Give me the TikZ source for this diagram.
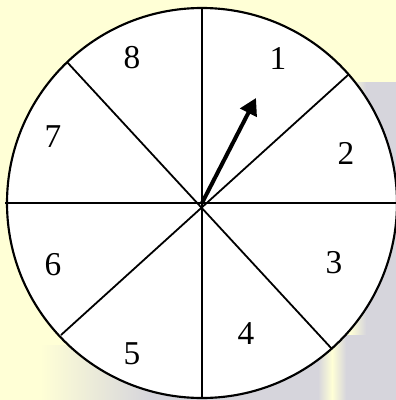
\documentclass[tikz,border=0pt]{standalone}
\usepackage{fontspec}
\setmainfont{Liberation Serif}
\usetikzlibrary{arrows.meta}
\definecolor{bgyellow}{HTML}{FFFFD6}
\definecolor{bggray}{HTML}{D6D5DC}
\tikzset{
  rim/.style={draw=black, line width=1.6pt, fill=white},
  spoke/.style={draw=black, line width=1.35pt},
  pointer/.style={draw=black, line width=3pt, -{Triangle[length=12.5pt,width=13.5pt]}},
  num/.style={font=\fontsize{25pt}{30pt}\selectfont, inner sep=0pt}
}
\begin{document}
\begin{tikzpicture}[x=0.75pt, y=-0.75pt]
\useasboundingbox (0,0) rectangle (396,400);
% background
\fill[bgyellow] (0,0) rectangle (396,400);
\fill[bggray] (366,82) rectangle (396,400);
\shade[left color=bgyellow, right color=bggray] (350,82) rectangle (366,400);
\fill[bggray] (150,335) rectangle (396,400);
\shade[left color=bggray, right color=bgyellow] (318,335) rectangle (332,400);
\shade[left color=bgyellow, right color=bggray] (332,335) rectangle (346,400);
\shade[left color=bgyellow, right color=bggray] (40,345) rectangle (150,400);
% wheel
\coordinate (c) at (202,203);
\draw[rim] (c) circle[radius=146.25pt];
\coordinate (top) at (202,7);
\coordinate (bot) at (202,399);
\coordinate (lft) at (5,203);
\coordinate (rgt) at (396,203);
\coordinate (d1a) at (67,62);
\coordinate (d1b) at (332,349);
\coordinate (d2a) at (348,75);
\coordinate (d2b) at (61,335);
\coordinate (tip) at (256,98);
\draw[spoke] (top) -- (bot);
\draw[spoke] (lft) -- (rgt);
\draw[spoke] (d1a) -- (d1b);
\draw[spoke] (d2a) -- (d2b);
\draw[pointer] (c) -- (tip);
% numbers
\node[num] (n1) at (278,58) {1};
\node[num] (n2) at (346,153) {2};
\node[num] (n3) at (334,263) {3};
\node[num] (n4) at (246,334) {4};
\node[num] (n5) at (132,354) {5};
\node[num] (n6) at (53,265) {6};
\node[num] (n7) at (53,137) {7};
\node[num] (n8) at (132,58) {8};
\end{tikzpicture}
\end{document}
